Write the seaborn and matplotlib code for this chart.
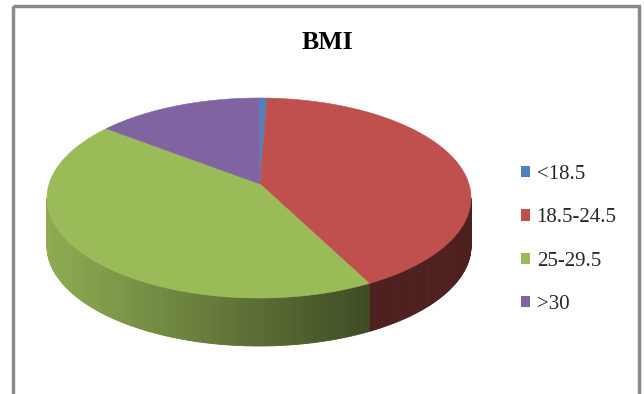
import numpy as np
import matplotlib
matplotlib.use("Agg")
import matplotlib.pyplot as plt
from matplotlib.patches import Polygon, Patch, Rectangle
import matplotlib.colors as mcolors
import seaborn as sns

# ---- data ----
categories = ["<18.5", "18.5-24.5", "25-29.5", ">30"]
values = [0.6, 40.7, 45.9, 12.8]
colors = ["#4F81BD", "#C0504D", "#9BBB59", "#8064A2"]
title = "BMI"

sns.set_theme(style="white")
plt.rcParams["font.family"] = ["Liberation Serif", "DejaVu Serif"]

W, H = 644, 394
fig = plt.figure(figsize=(W / 100, H / 100), dpi=100)
ax = fig.add_axes([0, 0, 1, 1])
ax.set_xlim(0, W)
ax.set_ylim(H, 0)
ax.axis("off")

# chart frame
ax.add_patch(Rectangle((13.5, 6), 626, 400, fill=False, edgecolor="#8a8a8a", lw=2.5))

# pie geometry (layout); apex raised slightly to mimic perspective
cx, cy, a, b, depth = 259, 198, 212, 100, 48
apex = (260, 184)

def rim(theta_deg, dy=0.0):
    t = np.radians(theta_deg)
    return cx + a * np.sin(t), cy - b * np.cos(t) + dy

vals = np.array(values, dtype=float)
fr = vals / vals.sum()
bounds = np.concatenate([[0], np.cumsum(fr) * 360])

def shade(color, theta):
    u = (np.sin(np.radians(theta)) + 1) / 2
    f = np.clip(0.92 - 0.68 * u, 0.4, 1.0)
    r, g, bb = mcolors.to_rgb(color)
    return (r * f, g * f, bb * f)

# side walls (front half only)
for i, col in enumerate(colors):
    s, e = bounds[i], bounds[i + 1]
    lo, hi = max(s, 90), min(e, 270)
    if hi <= lo:
        continue
    n = max(2, int((hi - lo) / 0.7))
    ts = np.linspace(lo, hi, n + 1)
    for t1, t2 in zip(ts[:-1], ts[1:]):
        p1, p2 = rim(t1), rim(t2)
        q2, q1 = rim(t2, depth), rim(t1, depth)
        c = shade(col, (t1 + t2) / 2)
        ax.add_patch(Polygon([p1, p2, q2, q1], closed=True, facecolor=c,
                             edgecolor=c, lw=0.6))

# top faces
for i, col in enumerate(colors):
    s, e = bounds[i], bounds[i + 1]
    ts = np.linspace(s, e, max(3, int(e - s) * 2))
    pts = [apex] + [rim(t) for t in ts]
    ax.add_patch(Polygon(pts, closed=True, facecolor=col, edgecolor=col, lw=0.4))

# title
ax.text(327, 42, title, ha="center", va="center", fontsize=18.5, fontweight="bold",
        color="black")

# legend
handles = [Patch(facecolor=c, edgecolor="none") for c in colors]
fig.legend(handles, categories, loc="center left", bbox_to_anchor=(521 / W, 1 - 239.5 / H),
           frameon=False, fontsize=15, handlelength=0.45, handleheight=0.45,
           handletextpad=0.3, labelspacing=1.16, borderpad=0, borderaxespad=0)

fig.savefig("out.png", dpi=100, facecolor="white")
